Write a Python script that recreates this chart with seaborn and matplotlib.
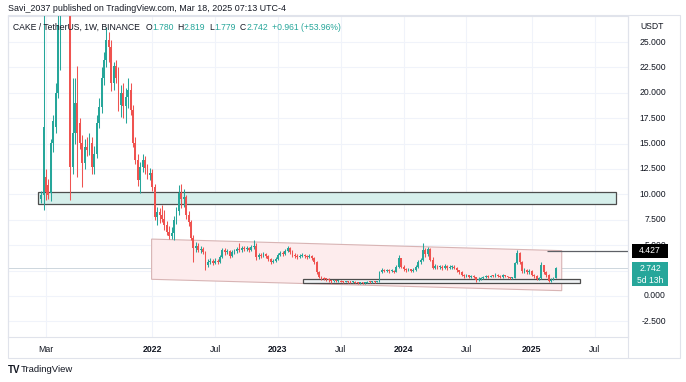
import matplotlib
matplotlib.use("Agg")
import matplotlib.pyplot as plt
import matplotlib.dates as mdates
import matplotlib.transforms as mtransforms
from matplotlib.patches import Polygon, Rectangle
import numpy as np
import pandas as pd
import seaborn as sns

# CAKE / TetherUS weekly candles (Binance), first week 2021-02-15
opens = [
    9.5, 9.9, 11.7, 10.9, 10.1, 15.1, 16.6, 20.0, 26.7, 32.0,
    36.0, 40.0, 33.0, 12.7, 16.0, 19.0, 17.0, 15.1, 13.1, 14.7,
    14.4, 15.1, 12.7, 14.0, 17.0, 18.6, 21.5, 23.2, 25.2, 24.5,
    21.0, 22.6, 21.5, 18.8, 20.0, 18.7, 19.6, 20.3, 18.3, 15.1,
    13.4, 11.4, 12.7, 13.4, 12.6, 11.9, 12.1, 10.7, 7.8, 8.3,
    8.0, 7.6, 7.0, 6.3, 5.9, 6.2, 7.5, 8.4, 10.1, 9.5,
    9.7, 8.0, 7.3, 5.7, 4.7, 4.9, 4.5, 4.6, 4.3, 3.0,
    3.3, 3.4, 3.2, 3.4, 3.3, 3.8, 4.5, 4.3, 4.4, 3.9,
    4.3, 4.4, 4.6, 4.5, 4.7, 4.6, 4.7, 4.5, 4.8, 4.9,
    3.8, 4.0, 3.9, 4.1, 3.9, 3.6, 3.3, 3.4, 3.6, 4.0,
    4.2, 4.1, 4.4, 4.7, 4.3, 4.0, 3.9, 3.8, 3.9, 4.0,
    3.9, 3.8, 3.9, 3.7, 3.3, 2.4, 1.9, 1.75, 1.7, 1.65,
    1.55, 1.45, 1.5, 1.45, 1.5, 1.42, 1.4, 1.45, 1.38, 1.35,
    1.4, 1.32, 1.3, 1.35, 1.28, 1.32, 1.38, 1.35, 1.4, 1.38,
    1.45, 2.4, 2.6, 2.5, 2.55, 2.45, 2.5, 2.4, 2.9, 3.7,
    2.9, 2.7, 2.55, 2.65, 2.5, 2.6, 2.9, 3.3, 3.5, 4.5,
    4.1, 4.6, 3.5, 2.8, 2.95, 2.85, 2.9, 2.8, 2.95, 2.75,
    2.85, 2.9, 2.8, 2.55, 2.35, 2.1, 1.95, 2.05, 1.9, 2.0,
    1.85, 1.55, 1.7, 1.75, 1.85, 1.95, 1.9, 2.0, 1.95, 2.1,
    2.0, 1.9, 2.05, 1.95, 1.85, 1.75, 1.8, 3.2, 4.2, 3.3,
    2.5, 2.55, 2.4, 2.45, 2.1, 1.95, 1.65, 1.75, 3.0, 2.4,
    2.1, 1.5, 1.6, 1.780,
]
highs = [
    10.3, 29.0, 12.5, 11.5, 15.5, 17.8, 21.0, 28.5, 34.0, 38.0,
    44.0, 42.0, 35.0, 21.5, 21.5, 22.6, 17.5, 15.8, 15.5, 15.6,
    16.0, 15.6, 14.8, 17.8, 19.5, 22.5, 24.0, 26.5, 26.0, 25.2,
    23.0, 23.2, 22.5, 20.8, 21.0, 20.5, 21.5, 21.0, 18.8, 15.6,
    14.0, 13.2, 14.0, 13.8, 13.0, 12.6, 12.5, 11.0, 8.8, 8.7,
    9.0, 8.5, 7.4, 6.9, 6.8, 7.9, 8.8, 10.9, 11.0, 10.5,
    9.9, 8.4, 7.5, 6.0, 5.3, 5.2, 4.9, 4.8, 4.4, 3.6,
    3.7, 3.6, 3.7, 3.6, 4.0, 4.7, 4.7, 4.6, 4.5, 4.5,
    4.6, 4.8, 5.2, 4.9, 4.9, 4.9, 4.8, 5.0, 5.5, 5.2,
    4.2, 4.2, 4.3, 4.2, 4.0, 3.7, 3.6, 3.8, 4.2, 4.4,
    4.4, 4.6, 4.9, 4.8, 4.5, 4.2, 4.1, 4.1, 4.2, 4.1,
    4.0, 4.1, 4.0, 3.8, 3.4, 2.5, 2.0, 1.9, 1.8, 1.75,
    1.6, 1.6, 1.6, 1.55, 1.55, 1.5, 1.52, 1.5, 1.45, 1.46,
    1.44, 1.38, 1.4, 1.4, 1.38, 1.45, 1.45, 1.48, 1.5, 1.52,
    2.5, 2.8, 2.7, 2.7, 2.65, 2.65, 2.6, 3.0, 4.0, 3.75,
    3.0, 2.8, 2.8, 2.7, 2.75, 3.0, 3.5, 3.7, 5.2, 4.7,
    4.8, 4.7, 3.8, 3.1, 3.05, 3.0, 3.0, 3.1, 3.0, 3.0,
    3.05, 3.0, 2.85, 2.6, 2.45, 2.2, 2.15, 2.1, 2.1, 2.05,
    1.9, 1.85, 1.85, 1.95, 2.05, 2.05, 2.1, 2.1, 2.25, 2.2,
    2.1, 2.15, 2.1, 2.0, 1.9, 1.9, 3.3, 4.5, 4.3, 3.4,
    2.75, 2.65, 2.65, 2.55, 2.2, 2.05, 1.9, 3.35, 3.05, 2.5,
    2.2, 1.75, 1.85, 2.819,
]
lows = [
    9.2, 8.5, 9.4, 9.5, 9.3, 14.2, 16.0, 19.5, 22.2, 30.0,
    34.0, 28.0, 9.4, 12.0, 15.0, 11.7, 14.5, 10.7, 12.5, 13.8,
    13.9, 12.0, 12.0, 13.6, 16.5, 18.0, 20.8, 22.5, 23.0, 20.2,
    20.3, 21.0, 18.2, 17.6, 17.5, 17.0, 18.5, 17.8, 14.7, 13.0,
    10.8, 10.1, 12.2, 12.0, 11.5, 11.4, 10.3, 7.5, 7.0, 7.2,
    7.3, 6.5, 6.0, 5.6, 5.6, 5.5, 7.1, 8.0, 8.7, 8.8,
    7.6, 6.9, 5.5, 3.3, 4.3, 4.3, 4.2, 4.1, 2.6, 2.9,
    3.1, 3.0, 3.1, 3.1, 3.2, 3.7, 4.0, 4.1, 3.7, 3.8,
    4.1, 4.2, 4.3, 4.3, 4.4, 4.4, 4.3, 4.4, 4.6, 3.5,
    3.6, 3.7, 3.8, 3.7, 3.4, 3.1, 3.2, 3.3, 3.5, 3.9,
    3.9, 4.0, 4.3, 4.1, 3.8, 3.7, 3.6, 3.7, 3.8, 3.7,
    3.6, 3.7, 3.5, 3.1, 2.2, 1.8, 1.6, 1.55, 1.5, 1.4,
    1.3, 1.35, 1.35, 1.38, 1.35, 1.32, 1.34, 1.3, 1.28, 1.3,
    1.25, 1.2, 1.22, 1.2, 1.22, 1.25, 1.28, 1.3, 1.3, 1.33,
    1.4, 2.3, 2.35, 2.35, 2.3, 2.35, 2.3, 2.35, 2.8, 2.8,
    2.5, 2.4, 2.45, 2.35, 2.4, 2.5, 2.8, 3.1, 3.4, 3.8,
    3.9, 3.4, 2.7, 2.7, 2.7, 2.7, 2.6, 2.7, 2.6, 2.65,
    2.7, 2.65, 2.4, 2.2, 2.0, 1.8, 1.85, 1.8, 1.8, 1.75,
    1.35, 1.5, 1.6, 1.7, 1.8, 1.8, 1.85, 1.85, 1.9, 1.9,
    1.8, 1.8, 1.85, 1.75, 1.65, 1.65, 1.75, 3.1, 3.1, 2.3,
    2.3, 2.2, 2.2, 2.0, 1.8, 1.55, 1.55, 1.7, 2.2, 1.9,
    1.4, 1.42, 1.55, 1.779,
]
closes = [
    9.9, 16.6, 10.2, 9.9, 15.1, 17.2, 20.0, 26.7, 32.0, 36.0,
    40.0, 33.0, 12.7, 16.0, 19.0, 16.0, 15.1, 13.1, 14.7, 14.4,
    15.1, 12.7, 14.0, 17.0, 18.6, 21.5, 23.2, 25.2, 24.5, 21.0,
    22.6, 21.5, 18.8, 20.0, 18.7, 19.6, 20.3, 18.3, 15.1, 13.4,
    11.4, 12.7, 13.4, 12.6, 11.9, 12.1, 10.7, 7.8, 8.3, 8.0,
    7.6, 7.0, 6.3, 5.9, 6.2, 7.5, 8.4, 10.1, 9.5, 9.7,
    8.0, 7.3, 5.7, 4.7, 4.9, 4.5, 4.6, 4.3, 3.0, 3.3,
    3.4, 3.2, 3.4, 3.3, 3.8, 4.5, 4.3, 4.4, 3.9, 4.3,
    4.4, 4.6, 4.5, 4.7, 4.6, 4.7, 4.5, 4.8, 4.9, 3.8,
    4.0, 3.9, 4.1, 3.9, 3.6, 3.3, 3.4, 3.6, 4.0, 4.2,
    4.1, 4.4, 4.7, 4.3, 4.0, 3.9, 3.8, 3.9, 4.0, 3.9,
    3.8, 3.9, 3.7, 3.3, 2.4, 1.9, 1.75, 1.7, 1.65, 1.55,
    1.45, 1.5, 1.45, 1.5, 1.42, 1.4, 1.45, 1.38, 1.35, 1.4,
    1.32, 1.3, 1.35, 1.28, 1.32, 1.38, 1.35, 1.4, 1.38, 1.45,
    2.4, 2.6, 2.5, 2.55, 2.45, 2.5, 2.4, 2.9, 3.7, 2.9,
    2.7, 2.55, 2.65, 2.5, 2.6, 2.9, 3.3, 3.5, 4.5, 4.1,
    4.6, 3.5, 2.8, 2.95, 2.85, 2.9, 2.8, 2.95, 2.75, 2.85,
    2.9, 2.8, 2.55, 2.35, 2.1, 1.95, 2.05, 1.9, 2.0, 1.85,
    1.55, 1.7, 1.75, 1.85, 1.95, 1.9, 2.0, 1.95, 2.1, 2.0,
    1.9, 2.05, 1.95, 1.85, 1.75, 1.8, 3.2, 4.2, 3.3, 2.5,
    2.55, 2.4, 2.45, 2.1, 1.95, 1.65, 1.75, 3.0, 2.4, 2.1,
    1.5, 1.6, 1.78, 2.742,
]
last_change = 0.961
last_change_pct = 53.96

# drawings placed on the chart
zone_dates = ["2021-02-05", "2025-09-06"]
zone_prices = [9.05, 10.2]
channel_dates = ["2022-01-01", "2025-04-03"]
channel_top = [5.6, 4.46]
channel_bottom = [1.64, 0.52]
support_dates = ["2023-03-15", "2025-05-25"]
support_prices = [1.30, 1.63]
level_start = "2025-02-19"
level_price = 4.427
countdown = "5d 13h"

time_ticks = ["2021-03-01", "2022-01-03", "2022-07-04", "2023-01-02", "2023-07-03",
              "2024-01-01", "2024-07-01", "2025-01-06", "2025-07-07"]
time_labels = ["Mar", "2022", "Jul", "2023", "Jul", "2024", "Jul", "2025", "Jul"]
price_ticks = [-2.5, 0.0, 2.5, 5.0, 7.5, 10.0, 12.5, 15.0, 17.5, 20.0, 22.5, 25.0]
hidden_ticks = [2.5]  # sits under the last-price label

candles = pd.DataFrame({"open": opens, "high": highs, "low": lows, "close": closes})
candles["week"] = pd.date_range("2021-02-15", periods=len(candles), freq="7D")

sns.set_style("white")
plt.rcParams["font.family"] = ["Liberation Sans", "DejaVu Sans"]

UP, DOWN = "#26a69a", "#ef5350"
INK = "#131722"
W, H = 686, 382

fig = plt.figure(figsize=(W / 100, H / 100), dpi=100)
ax = fig.add_axes([8 / W, 1 - 337 / H, 620 / W, 321 / H])

# candles
x = mdates.date2num(candles["week"])
cols = np.where(candles["close"] >= candles["open"], UP, DOWN)
ax.vlines(x, candles["low"], candles["high"], colors=cols, lw=0.75, zorder=4)
body = (candles["close"] - candles["open"]).abs().clip(lower=0.08)
bottom = candles[["open", "close"]].min(axis=1)
ax.bar(x, body, bottom=bottom, width=5.2, color=cols, lw=0, zorder=5)

# resistance zone
zd = mdates.date2num(pd.to_datetime(zone_dates))
ax.add_patch(Rectangle((zd[0], zone_prices[0]), zd[1] - zd[0], zone_prices[1] - zone_prices[0],
                       fc="#d6efeb", ec="#4d4d4d", lw=0.9, zorder=3))

# descending channel
cd = mdates.date2num(pd.to_datetime(channel_dates))
ax.add_patch(Polygon([(cd[0], channel_top[0]), (cd[1], channel_top[1]),
                      (cd[1], channel_bottom[1]), (cd[0], channel_bottom[0])],
                     closed=True, fc="#fdeced", ec="#d8b4b4", lw=0.8, zorder=2))

# support box
sd = mdates.date2num(pd.to_datetime(support_dates))
ax.add_patch(Rectangle((sd[0], support_prices[0]), sd[1] - sd[0], support_prices[1] - support_prices[0],
                       fc="#eef1f3", ec="#4d4d4d", lw=0.9, zorder=3))

# horizontal ray and last price line
ls = mdates.date2num(pd.Timestamp(level_start))
ax.plot([ls, mdates.date2num(pd.Timestamp("2025-10-12"))], [level_price, level_price],
        color="#5d6066", lw=0.9, zorder=3, solid_capstyle="butt")
ax.axhline(closes[-1], color="#cdd6dd", lw=0.7, zorder=1)

ax.set_xlim(mdates.date2num(pd.Timestamp("2020-11-11")), mdates.date2num(pd.Timestamp("2025-10-12")))
ax.set_ylim(-4.04, 27.56)

ax.set_xticks(mdates.date2num(pd.to_datetime(time_ticks)))
ax.set_xticklabels(time_labels)
ax.tick_params(axis="x", length=0, pad=6, labelsize=6.3, colors=INK)
for lbl in ax.get_xticklabels():
    if lbl.get_text().isdigit():
        lbl.set_fontweight("bold")
ax.set_yticks(price_ticks)
ax.tick_params(axis="y", length=0, labelleft=False, labelright=False)
ax.grid(True, color="#f0f3fa", lw=0.8)
ax.set_axisbelow(True)
for sp in ax.spines.values():
    sp.set_color("#e0e3eb")
    sp.set_linewidth(0.8)

# price scale
blend = mtransforms.blended_transform_factory(ax.transAxes, ax.transData)
for v in price_ticks:
    if v in hidden_ticks:
        continue
    ax.text((666 - 8) / 620, v, f"{v:.3f}", transform=blend, ha="right", va="center",
            fontsize=6.2, color=INK, clip_on=False, zorder=6)
ax.text((652 - 8) / 620, 27.56 - 11 / 10.16, "USDT", transform=blend, ha="center", va="center",
        fontsize=6.2, color=INK, clip_on=False)

bx, bw = (632 - 8) / 620, 36 / 620
ax.add_patch(Rectangle((bx, level_price - 0.69), bw, 1.38, transform=blend, fc="#000000",
                       ec="none", clip_on=False, zorder=8))
ax.text(bx + bw / 2, level_price, f"{level_price:.3f}", transform=blend, ha="center", va="center",
        fontsize=6.2, color="white", clip_on=False, zorder=9)
ax.add_patch(Rectangle((bx, closes[-1] - 1.76), bw, 2.37, transform=blend, fc=UP,
                       ec="none", clip_on=False, zorder=8))
ax.text(bx + bw / 2, closes[-1], f"{closes[-1]:.3f}", transform=blend, ha="center", va="center",
        fontsize=6.2, color="white", clip_on=False, zorder=9)
ax.text(bx + bw / 2, closes[-1] - 1.18, countdown, transform=blend, ha="center", va="center",
        fontsize=6.2, color="white", clip_on=False, zorder=9)

# legend line inside the pane
o, h, l, c = opens[-1], highs[-1], lows[-1], closes[-1]
pieces = [("CAKE / TetherUS, 1W, BINANCE", INK, 0), ("O", INK, 4), (f"{o:.3f}", UP, 0),
          ("H", INK, 3), (f"{h:.3f}", UP, 0), ("L", INK, 3), (f"{l:.3f}", UP, 0),
          ("C", INK, 3), (f"{c:.3f}", UP, 0),
          (f"+{last_change:.3f} (+{last_change_pct:.2f}%)", UP, 3)]
prev = ax.text((13 - 8) / 620, (337 - 27) / 321, pieces[0][0], transform=ax.transAxes,
               fontsize=6.2, color=pieces[0][1], va="center", ha="left", zorder=10)
for txt, col, gap in pieces[1:]:
    prev = ax.annotate(txt, xy=(1, 0), xycoords=prev, xytext=(gap, 0), textcoords="offset points",
                       fontsize=6.2, color=col, va="bottom", ha="left", zorder=10)

# header, frame and footer
fig.text(8 / W, 1 - 8.5 / H, "Savi_2037 published on TradingView.com, Mar 18, 2025 07:13 UTC-4",
         fontsize=6.4, color=INK, va="center", ha="left")
fig.add_artist(Rectangle((8 / W, 1 - 358 / H), 672 / W, 343 / H, transform=fig.transFigure,
                         fill=False, ec="#e0e3eb", lw=0.8))
fig.add_artist(plt.Line2D([628 / W, 628 / W], [1 - 358 / H, 1 - 15 / H], color="#e0e3eb", lw=0.8))
fig.text(8 / W, 1 - 370 / H, "TV", fontsize=7, fontweight="bold", color=INK, va="center", ha="left")
fig.text(21 / W, 1 - 370 / H, "TradingView", fontsize=6.8, color=INK, va="center", ha="left")

fig.savefig("out.png", dpi=100)
